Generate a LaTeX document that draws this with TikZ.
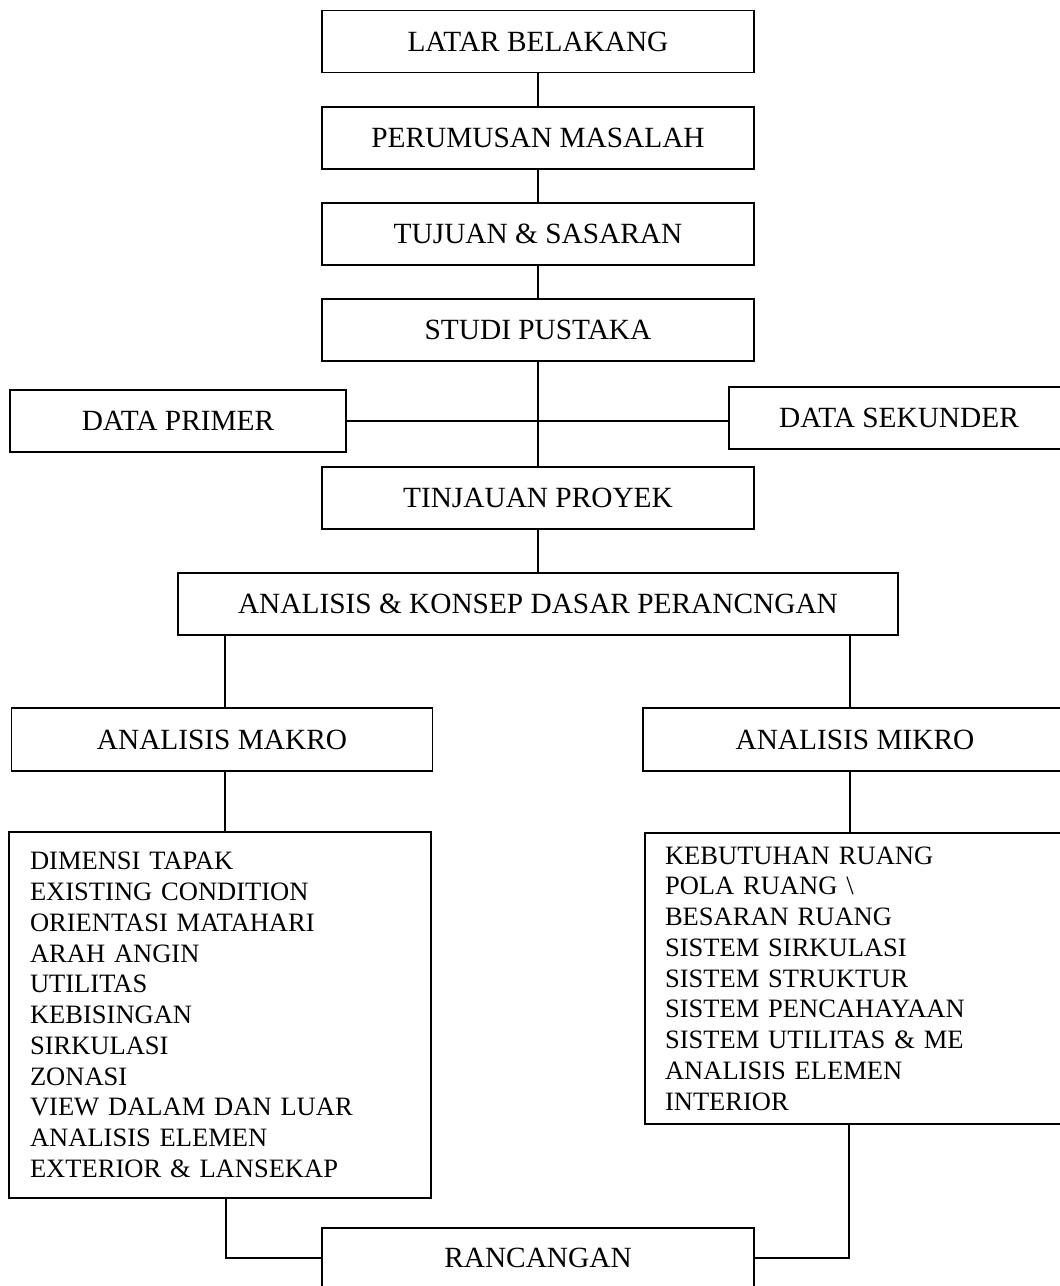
\documentclass[tikz,border=0pt]{standalone}
\usepackage{fontspec}
\setmainfont{Liberation Serif}
\usepackage{tikz}
\usetikzlibrary{positioning, calc}

\tikzset{
  kotak/.style={draw, line width=0.8pt, minimum height=1.24cm, inner sep=0pt, font=\fontsize{16.7}{18}\selectfont},
  daftar/.style={draw, line width=0.8pt, align=left, inner ysep=0pt, font=\fontsize{15.1}{17.5}\selectfont},
  garis/.style={line width=0.8pt}
}

\begin{document}
\begin{tikzpicture}[x=0.02cm, y=-0.02cm]
    \useasboundingbox (0,0) rectangle (1060,1286);

    % alur utama
    \node[kotak, minimum width=8.64cm] (latar) at (538,41.5) {LATAR BELAKANG};
    \node[kotak, minimum width=8.64cm] (rumusan) at (538,138) {PERUMUSAN MASALAH};
    \node[kotak, minimum width=8.64cm] (tujuan) at (538,234) {TUJUAN \& SASARAN};
    \node[kotak, minimum width=8.64cm] (studi) at (538,330) {STUDI PUSTAKA};
    \node[kotak, minimum width=6.72cm] (primer) at (178,421) {DATA PRIMER};
    \node[kotak, minimum width=6.8cm] (sekunder) at (899,418) {DATA SEKUNDER};
    \node[kotak, minimum width=8.64cm] (tinjauan) at (538,498) {TINJAUAN PROYEK};
    \node[kotak, minimum width=14.4cm] (konsep) at (538,604) {ANALISIS \& KONSEP DASAR PERANCNGAN};

    % cabang analisis
    \node[kotak, minimum width=8.42cm, minimum height=1.26cm] (makro) at (222,739.5) {ANALISIS MAKRO};
    \node[kotak, minimum width=8.48cm, minimum height=1.26cm] (mikro) at (855,739.5) {ANALISIS MIKRO};
    \node[daftar, text width=7.6cm, inner xsep=0.42cm, minimum height=7.32cm] (kiri) at (220,1015) {DIMENSI TAPAK\\ EXISTING CONDITION\\ ORIENTASI MATAHARI\\ ARAH ANGIN\\ UTILITAS\\ KEBISINGAN\\ SIRKULASI\\ ZONASI\\ VIEW DALAM DAN LUAR\\ ANALISIS ELEMEN\\ EXTERIOR \& LANSEKAP};
    \node[daftar, text width=7.64cm, inner xsep=0.4cm, minimum height=5.82cm] (kanan) at (856,978.5) {KEBUTUHAN RUANG\\ POLA RUANG \textbackslash\\ BESARAN RUANG\\ SISTEM SIRKULASI\\ SISTEM STRUKTUR\\ SISTEM PENCAHAYAAN\\ SISTEM UTILITAS \& ME\\ ANALISIS ELEMEN\\ INTERIOR};
    \node[kotak, minimum width=8.64cm, minimum height=1.2cm] (rancangan) at (538,1258) {RANCANGAN};

    % garis penghubung
    \draw[garis] (latar) -- (rumusan);
    \draw[garis] (rumusan) -- (tujuan);
    \draw[garis] (tujuan) -- (studi);
    \draw[garis] (studi) -- (tinjauan);
    \draw[garis] (primer.east) -- (primer.east -| sekunder.west);
    \draw[garis] (tinjauan) -- (konsep);
    \draw[garis] ([xshift=0.06cm]konsep.south -| makro.north) -- ([xshift=0.06cm]makro.north);
    \draw[garis] ([xshift=-0.1cm]konsep.south -| mikro.north) -- ([xshift=-0.1cm]mikro.north);
    \draw[garis] ([xshift=0.06cm]makro.south) -- ([xshift=0.06cm]kiri.north -| makro.south);
    \draw[garis] ([xshift=-0.1cm]mikro.south) -- ([xshift=-0.1cm]kanan.north -| mikro.south);
    \draw[garis] ([xshift=0.12cm]kiri.south) |- (rancangan.west);
    \draw[garis] ([xshift=-0.14cm]kanan.south) |- (rancangan.east);
\end{tikzpicture}
\end{document}
